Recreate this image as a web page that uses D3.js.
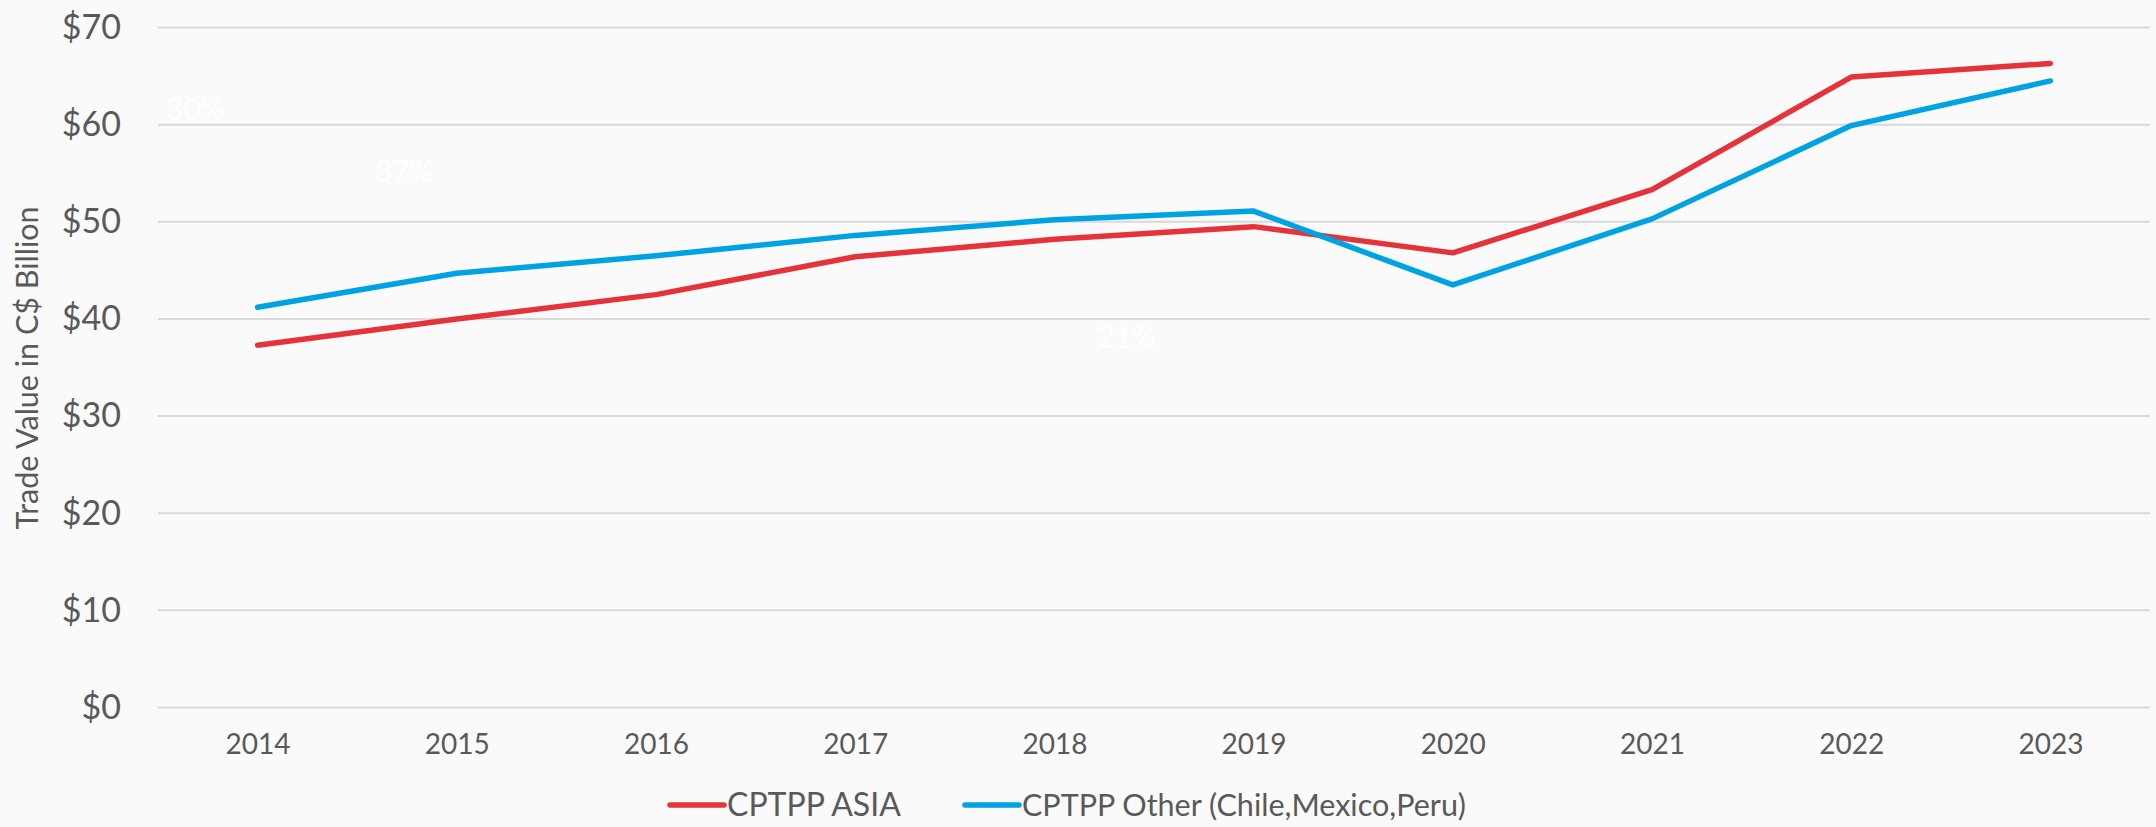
<!DOCTYPE html>
<html>
<head>
<meta charset="utf-8">
<script src="https://cdn.jsdelivr.net/npm/d3@7"></script>
<style>
  body { margin: 0; background: #fafafa; }
  text { font-family: Lato, "Open Sans", sans-serif; fill: #595959; }
</style>
</head>
<body>
<svg id="chart"></svg>
<script>
var years = ["2014", "2015", "2016", "2017", "2018", "2019", "2020", "2021", "2022", "2023"];
var asia = [37.3, 40.0, 42.5, 46.4, 48.2, 49.5, 46.8, 53.3, 64.9, 66.3];
var other = [41.2, 44.7, 46.5, 48.6, 50.2, 51.1, 43.5, 50.3, 59.9, 64.5];
var yTicks = [0, 10, 20, 30, 40, 50, 60, 70];
var seriesNames = ["CPTPP ASIA", "CPTPP Other (Chile,Mexico,Peru)"];
var seriesColors = ["#e5333b", "#00a3e1"];
// leftover white data labels visible in the source picture
var ghostLabels = ["30%", "37%", "21%"];

var width = 2156, height = 827;
var margin = { top: 27.5, right: 6, bottom: 119.5, left: 158 };

var svg = d3.select("svg#chart")
  .attr("width", width)
  .attr("height", height);

var x = d3.scalePoint()
  .domain(years)
  .range([margin.left, width - margin.right])
  .padding(0.5);
var y = d3.scaleLinear()
  .domain([0, 70])
  .range([height - margin.bottom, margin.top]);

// gridlines
svg.append("g")
  .selectAll("line")
  .data(yTicks)
  .enter().append("line")
  .attr("x1", margin.left)
  .attr("x2", width - margin.right)
  .attr("y1", function (d) { return y(d); })
  .attr("y2", function (d) { return y(d); })
  .attr("stroke", "#d9d9d9")
  .attr("stroke-width", 2);

// y axis labels
var yAxis = svg.append("g")
  .attr("transform", "translate(" + (margin.left - 37) + ",0)")
  .call(d3.axisLeft(y).tickValues(yTicks).tickSize(0).tickPadding(0)
    .tickFormat(function (d) { return "$" + d; }));
yAxis.select(".domain").remove();
yAxis.selectAll("text")
  .style("font-size", "34px")
  .style("fill", "#595959")
  .style("font-family", "Lato, sans-serif");

// x axis labels
var xAxis = svg.append("g")
  .attr("transform", "translate(0," + (height - margin.bottom) + ")")
  .call(d3.axisBottom(x).tickSize(0).tickPadding(27));
xAxis.select(".domain").remove();
xAxis.selectAll("text")
  .style("font-size", "28px")
  .style("fill", "#595959")
  .style("font-family", "Lato, sans-serif");

// y axis title
svg.append("text")
  .attr("transform", "translate(38,368) rotate(-90)")
  .attr("text-anchor", "middle")
  .style("font-size", "30.5px")
  .text("Trade Value in C$ Billion");

// ghost labels
var ghostPos = [[166, 120], [375, 182], [1097, 348]];
svg.append("g")
  .selectAll("text")
  .data(ghostLabels)
  .enter().append("text")
  .attr("x", function (d, i) { return ghostPos[i][0]; })
  .attr("y", function (d, i) { return ghostPos[i][1]; })
  .style("font-size", "30px")
  .style("fill", "#ffffff")
  .text(function (d) { return d; });

// lines
var line = d3.line()
  .x(function (d, i) { return x(years[i]); })
  .y(function (d) { return y(d); });

[asia, other].forEach(function (s, k) {
  svg.append("path")
    .datum(s)
    .attr("fill", "none")
    .attr("stroke", seriesColors[k])
    .attr("stroke-width", 5.5)
    .attr("stroke-linecap", "round")
    .attr("stroke-linejoin", "round")
    .attr("d", line);
});

// legend
var legendX = [670, 965];
var legendSize = ["32px", "30.5px"];
var legend = svg.append("g");
seriesNames.forEach(function (name, k) {
  legend.append("line")
    .attr("x1", legendX[k])
    .attr("x2", legendX[k] + 54)
    .attr("y1", 805)
    .attr("y2", 805)
    .attr("stroke", seriesColors[k])
    .attr("stroke-width", 5.5)
    .attr("stroke-linecap", "round");
  legend.append("text")
    .attr("x", legendX[k] + 57)
    .attr("y", 816)
    .style("font-size", legendSize[k])
    .text(name);
});
</script>
</body>
</html>
